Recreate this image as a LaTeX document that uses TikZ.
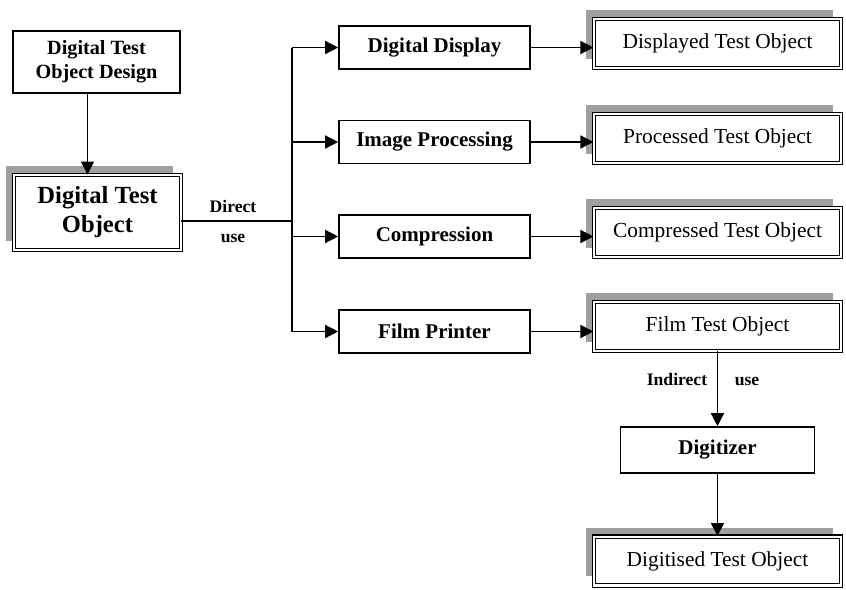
\documentclass[tikz,border=0pt]{standalone}
\usepackage{fontspec}
\setmainfont{Liberation Serif}
\usetikzlibrary{arrows.meta,shadows}

\begin{document}
\begin{tikzpicture}[x=0.5pt,y=-0.5pt]
    \tikzstyle{every node}+=[inner sep=0pt]
    \tikzstyle{designbox}=[draw=black, line width=1.1pt, minimum width=83.5pt, minimum height=31pt, align=center, font=\fontsize{10.1}{12}\selectfont\bfseries]
    \tikzstyle{stagebox}=[draw=black, line width=0.8pt, fill=white, minimum width=95.5pt, minimum height=21.5pt, font=\fontsize{10.5}{12}\selectfont\bfseries]
    \tikzstyle{testobj}=[draw=black, line width=0.55pt, double=white, double distance=1.1pt, fill=white, drop shadow={shadow xshift=-4pt, shadow yshift=4.5pt, fill=gray!75, opacity=1}, minimum width=123.5pt, minimum height=24.4pt, align=center, font=\fontsize{10.7}{12}\selectfont]
    \tikzstyle{flow}=[line width=0.7pt, -{Triangle[length=6.5pt,width=6.5pt]}]
    \tikzstyle{tag}=[text height=1.6ex, text depth=0.3ex, font=\fontsize{8.8}{10}\selectfont\bfseries]
    \useasboundingbox (0,0) rectangle (846,589);
    \draw (96.5,62) node [designbox] (design) {Digital Test\\Object Design};
    \draw (97.5,212.5) node [testobj, minimum width=83.4pt, minimum height=37.4pt, font=\fontsize{12.3}{14.5}\selectfont\bfseries] (dto) {Digital Test\\Object};
    \draw (434.5,47.5) node [stagebox] (disp) {Digital Display};
    \draw (434.5,142) node [stagebox] (proc) {Image Processing};
    \draw (434.5,236.5) node [stagebox] (comp) {Compression};
    \draw (434.5,331.5) node [stagebox] (film) {Film Printer};
    \draw (717.5,43.5) node [testobj] (dispobj) {Displayed Test Object};
    \draw (717.5,138.5) node [testobj] (procobj) {Processed Test Object};
    \draw (717.5,232.5) node [testobj] (compobj) {Compressed Test Object};
    \draw (717.5,326.5) node [testobj] (filmobj) {Film Test Object};
    \draw (717.5,450) node [stagebox, minimum width=97pt, minimum height=23pt] (digi) {Digitizer};
    \draw (717.5,561) node [testobj] (digobj) {Digitised Test Object};
    \draw [flow] ([xshift=-4.5pt]design.south) -- ([xshift=-4.5pt]design.south |- dto.north);
    \coordinate (split) at (292,221);
    \draw [line width=0.7pt] (dto.east |- split) -- (split);
    \draw [line width=0.7pt] (split |- disp) -- (split |- film);
    \draw (233,207) node [tag] (direct) {Direct};
    \draw (233,237) node [tag] (directuse) {use};
    \foreach \n in {disp,proc,comp,film}
        \draw [flow] (split |- \n) -- (\n.west);
    \draw [flow] (disp.east) -- (disp.east -| dispobj.west);
    \draw [flow] (proc.east) -- (proc.east -| procobj.west);
    \draw [flow] (comp.east) -- (comp.east -| compobj.west);
    \draw [flow] (film.east) -- (film.east -| filmobj.west);
    \draw [flow] (filmobj.south) -- (digi.north);
    \draw (677,380) node [tag] (indirect) {Indirect};
    \draw (747,380) node [tag] (indirectuse) {use};
    \draw [flow] (digi.south) -- (digobj.north);
\end{tikzpicture}
\end{document}
